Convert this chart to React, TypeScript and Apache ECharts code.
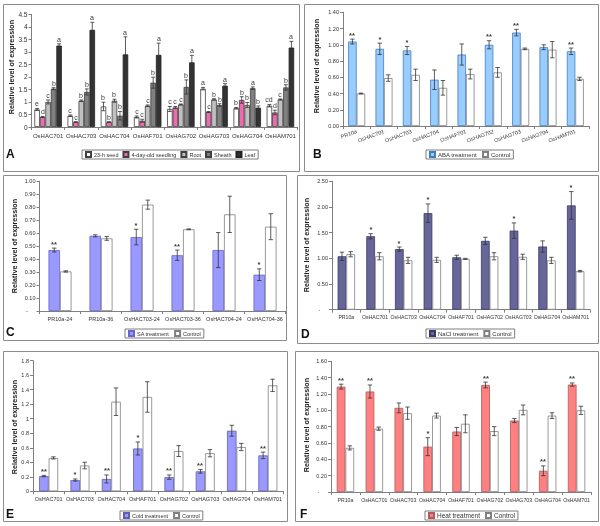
import React, { useEffect, useRef } from "react";
import * as echarts from "echarts";

const FONT = "'Liberation Sans', Arial, sans-serif";
const BFONT = "'Liberation Sans', Arial, sans-serif";
const AX = "#7f7f7f";
const TXT = "#333333";

// ---------- Panel A ----------
const catsA = ["OsHAC701", "OsHAC703", "OsHAC704", "OsHAF701", "OsHAG702", "OsHAG703", "OsHAG704", "OsHAM701"];
const seedA = [0.70, 0.45, 0.82, 0.40, 0.72, 1.53, 0.75, 0.85];
const seedErrA = [0.04, 0.03, 0.17, 0.04, 0.10, 0.05, 0.03, 0.05];
const seedSigA = ["e", "c", "b", "c", "c", "a", "b", "cd"];
const seedlingA = [0.40, 0.20, 0.20, 0.25, 0.78, 0.60, 1.08, 0.58];
const seedlingErrA = [0.02, 0.01, 0.01, 0.06, 0.04, 0.02, 0.13, 0.09];
const seedlingSigA = ["d", "c", "b", "c", "c", "c", "b", "d"];
const rootA = [1.00, 1.05, 1.05, 0.85, 0.90, 1.10, 0.88, 1.10];
const rootErrA = [0.08, 0.03, 0.06, 0.03, 0.02, 0.03, 0.10, 0.02];
const rootSigA = ["c", "b", "b", "c", "c", "b", "b", "c"];
const sheathA = [1.53, 1.40, 0.45, 1.77, 1.60, 0.88, 1.55, 1.58];
const sheathErrA = [0.04, 0.12, 0.17, 0.22, 0.28, 0.05, 0.05, 0.11];
const sheathSigA = ["b", "b", "b", "b", "b", "b", "a", "b"];
const leafA = [3.25, 3.88, 2.90, 2.88, 2.58, 1.65, 0.77, 3.17];
const leafErrA = [0.07, 0.30, 0.70, 0.47, 0.28, 0.08, 0.07, 0.25];
const leafSigA = ["a", "a", "a", "a", "a", "a", "b", "a"];

// ---------- Panel B ----------
const catsB = ["PR10a", "OsHAC701", "OsHAC703", "OsHAC704", "OsHAF701", "OsHAG702", "OsHAG703", "OsHAG704", "OsHAM701"];
const abaB = [1.04, 0.95, 0.93, 0.57, 0.88, 1.00, 1.15, 0.97, 0.92];
const abaErrB = [0.03, 0.07, 0.05, 0.12, 0.13, 0.05, 0.04, 0.03, 0.04];
const abaSigB = ["**", "*", "*", "", "", "**", "**", "", "**"];
const ctrlB = [0.40, 0.59, 0.63, 0.47, 0.64, 0.66, 0.95, 0.94, 0.58];
const ctrlErrB = [0.005, 0.04, 0.07, 0.09, 0.06, 0.06, 0.01, 0.10, 0.02];

// ---------- Panel C ----------
const catsC = ["PR10a-24", "PR10a-36", "OsHAC703-24", "OsHAC703-36", "OsHAC704-24", "OsHAC704-36"];
const saC = [0.47, 0.58, 0.57, 0.43, 0.47, 0.28];
const saErrC = [0.015, 0.008, 0.06, 0.04, 0.135, 0.045];
const saSigC = ["**", "", "*", "**", "", "*"];
const ctrlC = [0.305, 0.56, 0.82, 0.63, 0.745, 0.65];
const ctrlErrC = [0.005, 0.015, 0.035, 0.003, 0.14, 0.10];

// ---------- Panel D ----------
const catsD = ["PR10a", "OsHAC701", "OsHAC703", "OsHAC704", "OsHAF701", "OsHAG702", "OsHAG703", "OsHAG704", "OsHAM701"];
const naclD = [1.04, 1.43, 1.18, 1.88, 1.02, 1.34, 1.54, 1.23, 2.03];
const naclErrD = [0.08, 0.05, 0.04, 0.18, 0.04, 0.07, 0.15, 0.11, 0.27];
const naclSigD = ["", "*", "*", "*", "", "", "*", "", "*"];
const ctrlD = [1.08, 1.04, 0.96, 0.97, 0.99, 1.04, 1.03, 0.96, 0.75];
const ctrlErrD = [0.05, 0.07, 0.06, 0.05, 0.01, 0.07, 0.05, 0.06, 0.015];

// ---------- Panel E ----------
const catsE = ["OsHAC701", "OsHAC703", "OsHAC704", "OsHAF701", "OsHAG702", "OsHAG703", "OsHAG704", "OsHAM701"];
const coldE = [0.21, 0.155, 0.17, 0.59, 0.195, 0.275, 0.835, 0.495];
const coldErrE = [0.01, 0.015, 0.055, 0.09, 0.03, 0.025, 0.075, 0.045];
const coldSigE = ["**", "*", "**", "*", "**", "**", "", "**"];
const ctrlE = [0.46, 0.355, 1.235, 1.30, 0.555, 0.525, 0.61, 1.46];
const ctrlErrE = [0.015, 0.045, 0.19, 0.21, 0.075, 0.05, 0.05, 0.085];

// ---------- Panel F ----------
const catsF = ["PR10a", "OsHAC701", "OsHAC703", "OsHAC704", "OsHAF701", "OsHAG702", "OsHAG703", "OsHAG704", "OsHAM701"];
const heatF = [1.29, 1.23, 1.03, 0.555, 0.74, 1.31, 0.875, 0.26, 1.315];
const heatErrF = [0.03, 0.08, 0.06, 0.11, 0.05, 0.035, 0.025, 0.06, 0.02];
const heatSigF = ["**", "**", "", "*", "", "**", "", "**", "**"];
const ctrlF = [0.54, 0.775, 0.965, 0.935, 0.835, 0.745, 1.005, 0.935, 1.00];
const ctrlErrF = [0.025, 0.02, 0.075, 0.03, 0.11, 0.055, 0.06, 0.035, 0.05];

const noSig = (n: number) => new Array(n).fill("");

type S = { name: string; values: number[]; errs: number[]; sigs: string[]; color: string; border: string };
type P = {
  id: string;
  box: number[];
  grid: { left: number; top: number; width: number; height: number };
  cats: string[];
  max: number;
  interval: number;
  fmt?: (v: number) => string;
  barWidth: number;
  series: S[];
  rotate: number;
  xFont: number;
  xMargin: number;
  yFont: number;
  sigFont: number;
  sigBold: boolean;
  legendLeft: number;
  legendTop: number;
  legendFont: number;
  legendGap: number;
  letter: number[];
  yname: number[];
};

const dash = (v: number) => (v === 0 ? "-     " : v.toFixed(2));
const CTRL = "#ffffff";
const CTRLB = "#808080";

const panels: P[] = [
  {
    id: "A",
    box: [3, 4, 299, 171],
    grid: { left: 31.5, top: 14.3, width: 265.5, height: 112.7 },
    cats: catsA, max: 4.5, interval: 0.5,
    barWidth: 5.5,
    series: [
      { name: "23-h seed", values: seedA, errs: seedErrA, sigs: seedSigA, color: "#ffffff", border: "#404040" },
      { name: "4-day-old seedling", values: seedlingA, errs: seedlingErrA, sigs: seedlingSigA, color: "#f06ab0", border: "#404040" },
      { name: "Root", values: rootA, errs: rootErrA, sigs: rootSigA, color: "#c0c0c0", border: "#404040" },
      { name: "Sheath", values: sheathA, errs: sheathErrA, sigs: sheathSigA, color: "#808080", border: "#404040" },
      { name: "Leaf", values: leafA, errs: leafErrA, sigs: leafSigA, color: "#333333", border: "#222222" },
    ],
    rotate: 0, xFont: 6, xMargin: 6, yFont: 6.5, sigFont: 7, sigBold: false,
    legendLeft: 82, legendTop: 150, legendFont: 5.5, legendGap: 4,
    letter: [6, 154], yname: [11, 67],
  },
  {
    id: "B",
    box: [304, 4, 598, 171],
    grid: { left: 343, top: 12.3, width: 246, height: 113.7 },
    cats: catsB, max: 1.4, interval: 0.2, fmt: (v: number) => v.toFixed(2),
    barWidth: 8.5,
    series: [
      { name: "ABA treatment", values: abaB, errs: abaErrB, sigs: abaSigB, color: "#99ccff", border: "#3d7fc0" },
      { name: "Control", values: ctrlB, errs: ctrlErrB, sigs: noSig(9), color: CTRL, border: CTRLB },
    ],
    rotate: 20, xFont: 5.5, xMargin: 5, yFont: 5.5, sigFont: 7.5, sigBold: true,
    legendLeft: 426, legendTop: 150, legendFont: 6, legendGap: 5,
    letter: [313, 154], yname: [316.5, 66],
  },
  {
    id: "C",
    box: [3, 175, 286, 340],
    grid: { left: 39.5, top: 181.3, width: 246, height: 129.7 },
    cats: catsC, max: 1.0, interval: 0.1, fmt: dash,
    barWidth: 11.5,
    series: [
      { name: "SA treatment", values: saC, errs: saErrC, sigs: saSigC, color: "#9999ff", border: "#6666cc" },
      { name: "Control", values: ctrlC, errs: ctrlErrC, sigs: noSig(6), color: CTRL, border: CTRLB },
    ],
    rotate: 0, xFont: 5.5, xMargin: 5, yFont: 5.5, sigFont: 7.5, sigBold: true,
    legendLeft: 125, legendTop: 329, legendFont: 5.5, legendGap: 5,
    letter: [6, 332], yname: [14, 246],
  },
  {
    id: "D",
    box: [297, 175, 598, 343],
    grid: { left: 332, top: 181.3, width: 258, height: 128.4 },
    cats: catsD, max: 2.5, interval: 0.5, fmt: dash,
    barWidth: 8.7,
    series: [
      { name: "NaCl treatment", values: naclD, errs: naclErrD, sigs: naclSigD, color: "#666699", border: "#3a3a6a" },
      { name: "Control", values: ctrlD, errs: ctrlErrD, sigs: noSig(9), color: CTRL, border: CTRLB },
    ],
    rotate: 0, xFont: 5.2, xMargin: 5, yFont: 5.5, sigFont: 7.5, sigBold: true,
    legendLeft: 426, legendTop: 329, legendFont: 6, legendGap: 5,
    letter: [301, 334], yname: [306, 245],
  },
  {
    id: "E",
    box: [3, 351, 287, 521],
    grid: { left: 33, top: 360.7, width: 250.5, height: 130.6 },
    cats: catsE, max: 1.8, interval: 0.2,
    barWidth: 9.5,
    series: [
      { name: "Cold treatment", values: coldE, errs: coldErrE, sigs: coldSigE, color: "#9999ff", border: "#5f5fb0" },
      { name: "Control", values: ctrlE, errs: ctrlErrE, sigs: noSig(8), color: CTRL, border: CTRLB },
    ],
    rotate: 0, xFont: 5.5, xMargin: 5, yFont: 5.5, sigFont: 7.5, sigBold: true,
    legendLeft: 120, legendTop: 511, legendFont: 5.5, legendGap: 5,
    letter: [6, 514], yname: [14, 427],
  },
  {
    id: "F",
    box: [295, 351, 598, 521],
    grid: { left: 331, top: 361.3, width: 260, height: 130.7 },
    cats: catsF, max: 1.6, interval: 0.2, fmt: dash,
    barWidth: 8.7,
    series: [
      { name: "Heat treatment", values: heatF, errs: heatErrF, sigs: heatSigF, color: "#ff8080", border: "#b05a5a" },
      { name: "Control", values: ctrlF, errs: ctrlErrF, sigs: noSig(9), color: CTRL, border: CTRLB },
    ],
    rotate: 0, xFont: 5.2, xMargin: 5, yFont: 5.5, sigFont: 7.5, sigBold: true,
    legendLeft: 425, legendTop: 511, legendFont: 6.5, legendGap: 5,
    letter: [300, 514], yname: [306, 425],
  },
];

function buildOption() {
  const grid: any[] = [];
  const xAxis: any[] = [];
  const yAxis: any[] = [];
  const series: any[] = [];
  const legend: any[] = [];
  const graphic: any[] = [];

  panels.forEach((p, gi) => {
    const [bx0, by0, bx1, by1] = p.box;
    graphic.push({
      type: "rect", z: -10, silent: true,
      shape: { x: bx0 + 0.5, y: by0 + 0.5, width: bx1 - bx0, height: by1 - by0 },
      style: { fill: "none", stroke: "#8c8c8c", lineWidth: 1 },
    });
    graphic.push({
      type: "text", x: p.letter[0], y: p.letter[1], silent: true,
      style: {
        text: p.id, fill: "#111", font: `bold 12px ${BFONT}`,
        align: "left", verticalAlign: "middle", textAlign: "left", textVerticalAlign: "middle",
      },
    });
    graphic.push({
      type: "text", x: p.yname[0], y: p.yname[1], rotation: Math.PI / 2, silent: true,
      style: {
        text: "Relative level of expression", fill: "#222", font: `bold 7.2px ${BFONT}`,
        align: "center", verticalAlign: "middle", textAlign: "center", textVerticalAlign: "middle",
      },
    });

    grid.push({ ...p.grid, containLabel: false });
    xAxis.push({
      type: "category", gridIndex: gi, data: p.cats,
      axisLine: { lineStyle: { color: AX, width: 1 } },
      axisTick: { show: true, length: 3, alignWithLabel: false, lineStyle: { color: AX } },
      axisLabel: { fontSize: p.xFont, color: TXT, fontFamily: FONT, margin: p.xMargin, rotate: p.rotate, interval: 0 },
      splitLine: { show: false },
    });
    yAxis.push({
      type: "value", gridIndex: gi, min: 0, max: p.max, interval: p.interval,
      axisLine: { show: true, lineStyle: { color: AX, width: 1 } },
      axisTick: { show: true, length: 3, lineStyle: { color: AX } },
      axisLabel: {
        fontSize: p.yFont, color: TXT, fontFamily: FONT, margin: 4,
        ...(p.fmt ? { formatter: p.fmt } : {}),
      },
      splitLine: { show: false },
    });

    const n = p.series.length;
    const bw = p.barWidth;
    p.series.forEach((s) => {
      series.push({
        type: "bar", name: s.name, xAxisIndex: gi, yAxisIndex: gi,
        data: s.values, barWidth: bw, barGap: "0%",
        itemStyle: { color: s.color, borderColor: s.border, borderWidth: 0.8 },
        emphasis: { disabled: true }, silent: true,
      });
    });
    p.series.forEach((s, si) => {
      const sigs = s.sigs;
      series.push({
        type: "custom", name: `err-${p.id}-${si}`, xAxisIndex: gi, yAxisIndex: gi,
        data: s.values.map((v, i) => [i, v, s.errs[i]]),
        encode: { x: 0, y: 1 }, z: 5, silent: true,
        itemStyle: { color: "#333333" },
        renderItem: (params: any, api: any) => {
          const i = api.value(0);
          const v = api.value(1);
          const e = api.value(2);
          const c = api.coord([i, v]);
          const x = c[0] - (n * bw) / 2 + bw * (si + 0.5);
          const yTop = api.coord([i, v + e])[1];
          const yBot = api.coord([i, Math.max(0, v - e)])[1];
          const cap = Math.min(2.2, bw * 0.35);
          const ls = { stroke: "#333", lineWidth: 0.8 };
          const children: any[] = [
            { type: "line", shape: { x1: x, y1: yTop, x2: x, y2: yBot }, style: ls },
            { type: "line", shape: { x1: x - cap, y1: yTop, x2: x + cap, y2: yTop }, style: ls },
            { type: "line", shape: { x1: x - cap, y1: yBot, x2: x + cap, y2: yBot }, style: ls },
          ];
          const sig = sigs[params.dataIndex];
          if (sig) {
            children.push({
              type: "text",
              x: Math.round(x),
              y: Math.round(yTop - (p.sigBold ? 0.5 : 1)),
              style: {
                legacy: false,
                text: sig, x: 0, y: 0, fill: "#3a3a3a",
                font: `${p.sigBold ? "bold " : ""}${p.sigFont}px ${BFONT}`,
                align: "center", verticalAlign: "bottom",
              },
            });
          }
          return { type: "group", children };
        },
      });
    });

    legend.push({
      data: p.series.map((s) => s.name),
      left: p.legendLeft, top: p.legendTop, orient: "horizontal",
      icon: "rect", itemWidth: 5, itemHeight: 5, itemGap: p.legendGap,
      padding: [1, 3, 1, 3],
      borderColor: "#7f7f7f", borderWidth: 1,
      selectedMode: false,
      textStyle: { fontSize: p.legendFont, color: TXT, fontFamily: FONT, padding: [0, 0, 0, -2] },
    });
  });

  return {
    animation: false,
    backgroundColor: "transparent",
    grid, xAxis, yAxis, series, legend, graphic,
  };
}

export default function App() {
  const ref = useRef<HTMLDivElement>(null);
  useEffect(() => {
    if (!ref.current) return;
    const chart = echarts.init(ref.current, undefined, { renderer: "svg" });
    chart.setOption(buildOption() as any);
    return () => chart.dispose();
  }, []);
  return (
    <div
      ref={ref}
      style={{ position: "absolute", left: 0, top: 0, width: 600, height: 526, willChange: "transform" }}
    />
  );
}
